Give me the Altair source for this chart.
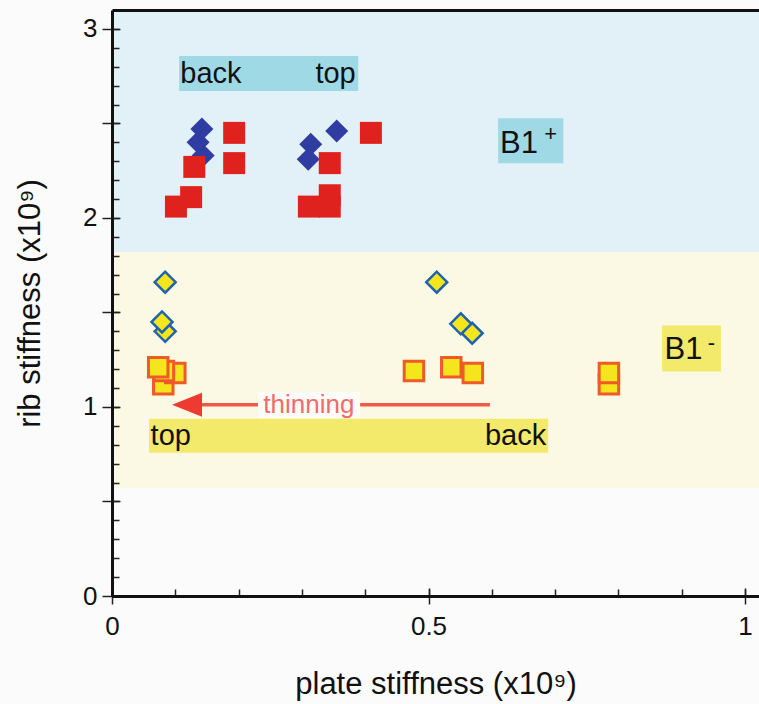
import altair as alt
import pandas as pd

FONT = "Liberation Sans"

# ---------------- data ----------------
# B1+ region (blue background): filled blue diamonds and red squares
bp_dia_x = [0.144, 0.136, 0.142, 0.310, 0.314, 0.355]
bp_dia_y = [2.33, 2.40, 2.47, 2.31, 2.39, 2.46]
bp_sq_x = [0.193, 0.193, 0.130, 0.125, 0.101, 0.409, 0.344, 0.344, 0.344, 0.311]
bp_sq_y = [2.45, 2.29, 2.27, 2.11, 2.06, 2.45, 2.29, 2.12, 2.06, 2.06]

# B1- region (yellow background): yellow diamonds and yellow squares
bm_dia_x = [0.084, 0.079, 0.084, 0.569, 0.551, 0.513]
bm_dia_y = [1.40, 1.45, 1.66, 1.39, 1.44, 1.66]
bm_sq_x = [0.081, 0.100, 0.082, 0.073, 0.477, 0.536, 0.570, 0.785, 0.785]
bm_sq_y = [1.12, 1.18, 1.19, 1.21, 1.19, 1.21, 1.18, 1.12, 1.18]

# background bands
band_lo = [1.82, 0.57]
band_hi = [3.10, 1.82]
band_col = ["#e2f1f7", "#fbf9e4"]

# label boxes
box_x1 = [0.106, 0.610, 0.869, 0.0585, 0.2306]
box_x2 = [0.389, 0.713, 0.962, 0.689, 0.392]
box_y1 = [2.671, 2.289, 1.187, 0.758, 0.943]
box_y2 = [2.856, 2.528, 1.431, 0.938, 1.081]
box_col = ["#a0d9e6", "#a0d9e6", "#f3e96a", "#f3e96a", "#fdfcf6"]

# annotation texts
txt_label = ["back", "top", "B1", "B1", "top", "back"]
txt_x = [0.108, 0.385, 0.613, 0.873, 0.061, 0.686]
txt_y = [2.76, 2.76, 2.39, 1.30, 0.848, 0.848]
txt_align = ["left", "right", "left", "left", "left", "right"]
txt_size = [29, 29, 31, 31, 29, 29]

sup_label = ["+", "-"]
sup_x = [0.693, 0.947]
sup_y = [2.445, 1.34]

# arrow "thinning"
arrow_x_start = [0.597]
arrow_x_end = [0.142]
arrow_y = [1.012]
arrow_head_x = [0.1185]
thin_label = ["thinning"]
thin_x = [0.311]

# axis ticks
x_minor = [0.0, 0.1, 0.2, 0.3, 0.4, 0.5, 0.6, 0.7, 0.8, 0.9, 1.0]
x_major = [0.0, 0.5, 1.0]
y_minor = [0.0, 0.1, 0.2, 0.3, 0.4, 0.5, 0.6, 0.7, 0.8, 0.9, 1.0,
           1.1, 1.2, 1.3, 1.4, 1.5, 1.6, 1.7, 1.8, 1.9, 2.0,
           2.1, 2.2, 2.3, 2.4, 2.5, 2.6, 2.7, 2.8, 2.9, 3.0]
y_major = [0.0, 0.5, 1.0, 1.5, 2.0, 2.5, 3.0]
y_labels = [0, 1, 2, 3]

X_DOMAIN = [0, 1.0221]
Y_DOMAIN = [0, 3.1]
xs = alt.Scale(domain=X_DOMAIN, nice=False, zero=False)
ys = alt.Scale(domain=Y_DOMAIN, nice=False, zero=False)

# ---------------- axes ----------------
ax_x_main = alt.Axis(orient="bottom", values=x_major, format="~g", title="plate stiffness (x10⁹)",
                     ticks=False, tickSize=0, domain=True, domainColor="#111111", domainWidth=3,
                     grid=False, labelFont=FONT, labelFontSize=26, labelColor="#111111",
                     labelPadding=17, labelFlush=False, labelOverlap=False,
                     titleFont=FONT, titleFontSize=31, titleFontWeight="normal",
                     titleColor="#111111", titleBaseline="alphabetic", titleY=97, zindex=2)
ax_y_main = alt.Axis(orient="left", values=y_labels, format="~g", title="rib stiffness (x10⁹)",
                     ticks=False, tickSize=0, domain=True, domainColor="#111111", domainWidth=3,
                     grid=False, labelFont=FONT, labelFontSize=26, labelColor="#111111",
                     labelPadding=15, labelFlush=False, labelOverlap=False,
                     titleFont=FONT, titleFontSize=31, titleFontWeight="normal",
                     titleColor="#111111", titleAngle=270, titleBaseline="middle", titleX=-82,
                     zindex=2)
ax_x_minor = alt.Axis(orient="bottom", values=x_minor, labels=False, domain=False, grid=False,
                      ticks=True, tickSize=7, tickWidth=1.5, tickColor="#222222", offset=-7,
                      title=None, zindex=1)
ax_y_minor = alt.Axis(orient="left", values=y_minor, labels=False, domain=False, grid=False,
                      ticks=True, tickSize=7, tickWidth=1.5, tickColor="#222222", offset=-7,
                      title=None, zindex=1)
ax_x_major = alt.Axis(orient="bottom", values=x_major, labels=False, domain=False, grid=False,
                      ticks=True, tickSize=16, tickWidth=1.5, tickColor="#222222", offset=-8,
                      title=None, zindex=1)
ax_y_major = alt.Axis(orient="left", values=y_major, labels=False, domain=False, grid=False,
                      ticks=True, tickSize=18, tickWidth=1.5, tickColor="#222222", offset=-8,
                      title=None, zindex=1)
ax_x_top = alt.Axis(orient="top", labels=False, ticks=False, domain=True, domainColor="#111111",
                    domainWidth=3, grid=False, title=None, zindex=2)

# ---------------- layers ----------------
bands = alt.Chart(pd.DataFrame({"lo": band_lo, "hi": band_hi, "c": band_col})).mark_rect().encode(
    y=alt.Y("lo:Q", scale=ys, axis=None),
    y2="hi:Q",
    fill=alt.Fill("c:N", scale=None),
)

arrow_line = alt.Chart(pd.DataFrame({"x": arrow_x_start, "x2": arrow_x_end, "y": arrow_y})).mark_rule(
    color="#f05a48", strokeWidth=3.5).encode(
    x=alt.X("x:Q", scale=xs, axis=ax_x_minor),
    x2="x2:Q",
    y=alt.Y("y:Q", scale=ys, axis=ax_y_minor),
)

boxes = alt.Chart(pd.DataFrame({"x1": box_x1, "x2": box_x2, "y1": box_y1, "y2": box_y2,
                                "c": box_col})).mark_rect().encode(
    x=alt.X("x1:Q", scale=xs, axis=ax_x_main),
    x2="x2:Q",
    y=alt.Y("y1:Q", scale=ys, axis=ax_y_main),
    y2="y2:Q",
    fill=alt.Fill("c:N", scale=None),
)

text_layers = []
for lab, tx, ty, al, fs in zip(txt_label, txt_x, txt_y, txt_align, txt_size):
    text_layers.append(
        alt.Chart(pd.DataFrame({"x": [tx], "y": [ty], "t": [lab]})).mark_text(
            align=al, baseline="middle", font=FONT, fontSize=fs, color="#111111").encode(
            x=alt.X("x:Q", scale=xs, axis=None),
            y=alt.Y("y:Q", scale=ys, axis=None),
            text="t:N",
        )
    )

sup = alt.Chart(pd.DataFrame({"x": sup_x, "y": sup_y, "t": sup_label})).mark_text(
    align="center", baseline="middle", font=FONT, fontSize=22, color="#111111").encode(
    x=alt.X("x:Q", scale=xs, axis=None),
    y=alt.Y("y:Q", scale=ys, axis=None),
    text="t:N",
)

thin_text = alt.Chart(pd.DataFrame({"x": thin_x, "y": arrow_y, "t": thin_label})).mark_text(
    align="center", baseline="middle", font=FONT, fontSize=26, color="#f26b6b").encode(
    x=alt.X("x:Q", scale=xs, axis=None),
    y=alt.Y("y:Q", scale=ys, axis=None),
    text="t:N",
)

arrow_head = alt.Chart(pd.DataFrame({"x": arrow_head_x, "y": arrow_y})).mark_point(
    shape="M-1,0L1,-0.8L1,0.8Z", filled=True, color="#ee3a30", size=900, opacity=1).encode(
    x=alt.X("x:Q", scale=xs, axis=ax_x_major),
    y=alt.Y("y:Q", scale=ys, axis=ax_y_major),
)

bp_dia = alt.Chart(pd.DataFrame({"x": bp_dia_x, "y": bp_dia_y})).mark_point(
    shape="diamond", filled=True, color="#2f3da2", size=530, opacity=1).encode(
    x=alt.X("x:Q", scale=xs, axis=None),
    y=alt.Y("y:Q", scale=ys, axis=None),
)

bp_sq = alt.Chart(pd.DataFrame({"x": bp_sq_x, "y": bp_sq_y})).mark_square(
    color="#e0221f", size=484, opacity=1).encode(
    x=alt.X("x:Q", scale=xs, axis=ax_x_top),
    y=alt.Y("y:Q", scale=ys, axis=None),
)

bm_dia = alt.Chart(pd.DataFrame({"x": bm_dia_x, "y": bm_dia_y})).mark_point(
    shape="diamond", filled=True, fill="#f5e51d", stroke="#1f63b0", strokeWidth=2.5,
    size=440, opacity=1).encode(
    x=alt.X("x:Q", scale=xs, axis=None),
    y=alt.Y("y:Q", scale=ys, axis=None),
)

bm_sq = alt.Chart(pd.DataFrame({"x": bm_sq_x, "y": bm_sq_y})).mark_square(
    fill="#f5e51d", stroke="#ee5a2a", strokeWidth=3, size=380, opacity=1).encode(
    x=alt.X("x:Q", scale=xs, axis=None),
    y=alt.Y("y:Q", scale=ys, axis=None),
)

chart = alt.layer(
    bands, arrow_line, boxes, *text_layers, sup, thin_text, arrow_head,
    bp_dia, bp_sq, bm_dia, bm_sq,
).resolve_axis(x="independent", y="independent").properties(
    width=647, height=586,
    autosize=alt.AutoSizeParams(type="none"),
    padding={"left": 112, "top": 10, "right": 0, "bottom": 108},
    background="#fbfbfb",
).configure_view(stroke=None)

chart.save("out.html", embed_options={"renderer": "svg", "actions": False})
